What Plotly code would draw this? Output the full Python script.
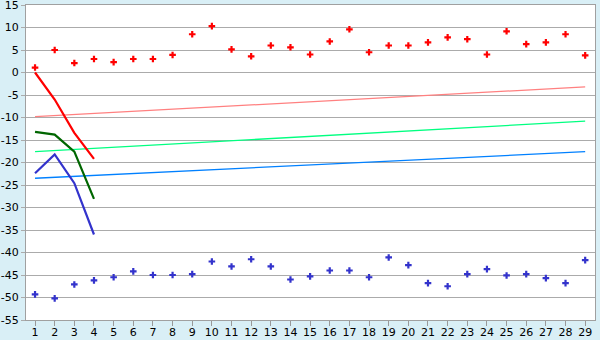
import plotly.graph_objects as go

cats = list(range(1, 30))
red_pts = [1.1, 5.0, 2.1, 3.0, 2.3, 3.0, 3.0, 3.9, 8.5, 10.3, 5.15, 3.6, 6.0, 5.6, 4.0,
           6.9, 9.6, 4.5, 6.0, 6.0, 6.7, 7.8, 7.4, 4.0, 9.15, 6.3, 6.7, 8.5, 3.8]
blue_pts = [-49.3, -50.2, -47.1, -46.2, -45.5, -44.2, -45.0, -45.0, -44.8, -42.0, -43.1,
            -41.5, -43.1, -46.0, -45.3, -44.0, -44.0, -45.5, -41.1, -42.8, -46.8, -47.5,
            -44.8, -43.7, -45.1, -44.8, -45.7, -46.8, -41.7]
line_x = [1, 2, 3, 4]
red_line = [0.0, -6.0, -13.4, -19.2]
green_line = [-13.2, -13.8, -17.6, -28.1]
blue_line = [-22.4, -18.2, -24.6, -36.0]
trend_x = [1, 29]
pink_trend = [-9.8, -3.2]
green_trend = [-17.6, -10.8]
blue_trend = [-23.5, -17.6]
yticks = list(range(-55, 20, 5))
ytext = [str(v) for v in yticks]

fig = go.Figure()
fig.add_trace(go.Scatter(x=trend_x, y=pink_trend, mode="lines", line=dict(color="#FF8080", width=1.3)))
fig.add_trace(go.Scatter(x=trend_x, y=green_trend, mode="lines", line=dict(color="#00FF80", width=1.3)))
fig.add_trace(go.Scatter(x=trend_x, y=blue_trend, mode="lines", line=dict(color="#0080FF", width=1.3)))
fig.add_trace(go.Scatter(x=line_x, y=red_line, mode="lines", line=dict(color="#FF0000", width=2.2)))
fig.add_trace(go.Scatter(x=line_x, y=green_line, mode="lines", line=dict(color="#006600", width=2.2)))
fig.add_trace(go.Scatter(x=line_x, y=blue_line, mode="lines", line=dict(color="#3333CC", width=2.2)))
fig.add_trace(go.Scatter(x=cats, y=red_pts, mode="markers",
                         marker=dict(symbol="cross", size=5.5, color="#FF0000", line=dict(width=0))))
fig.add_trace(go.Scatter(x=cats, y=blue_pts, mode="markers",
                         marker=dict(symbol="cross", size=5.5, color="#3333CC", line=dict(width=0))))

fig.update_layout(
    width=600, height=340,
    margin=dict(l=26, r=5, t=5, b=20),
    paper_bgcolor="#D9EFF6",
    plot_bgcolor="#FFFFFF",
    showlegend=False,
    font=dict(family="DejaVu Sans", size=11, color="#000000"),
    xaxis=dict(range=[0.54, 29.5], tickmode="array", tickvals=cats,
               ticktext=[str(c) for c in cats], showgrid=False, zeroline=False,
               automargin=False, ticklabelstandoff=-3,
               ticks="outside", ticklen=5, tickcolor="#999999",
               showline=True, linecolor="#A0A0A0", linewidth=1, mirror=True),
    yaxis=dict(range=[-55, 15], tickmode="array", tickvals=yticks, ticktext=ytext,
               ticklabeloverflow="allow", automargin=False,
               showgrid=True, gridcolor="#ABABAB", gridwidth=1, zeroline=False,
               ticks="outside", ticklen=4, tickcolor="#ABABAB",
               showline=True, linecolor="#A0A0A0", linewidth=1, mirror=True),
)
fig.write_html("out.html")
